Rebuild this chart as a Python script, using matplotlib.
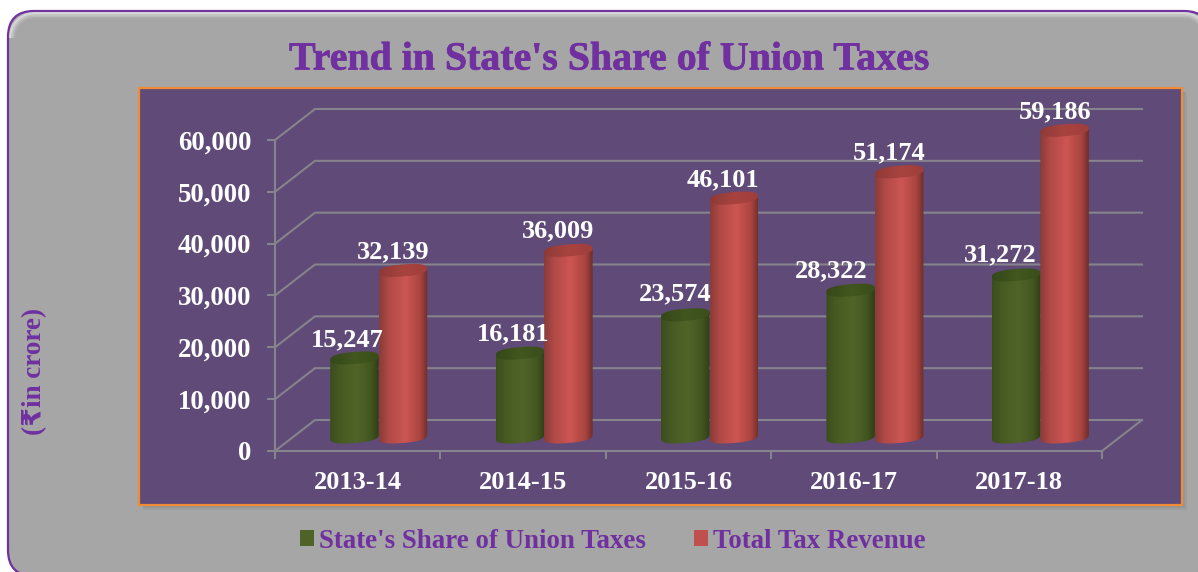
import numpy as np
import matplotlib
matplotlib.use('Agg')
import matplotlib.pyplot as plt
from matplotlib.patches import FancyBboxPatch, Rectangle, PathPatch, Patch
from matplotlib.path import Path
import matplotlib.patheffects as pe

plt.rcParams['font.family'] = ['Liberation Serif', 'DejaVu Sans']
plt.rcParams['font.weight'] = 'bold'

years = ['2013-14', '2014-15', '2015-16', '2016-17', '2017-18']
state_share = [15247, 16181, 23574, 28322, 31272]
total_revenue = [32139, 36009, 46101, 51174, 59186]
y_ticks = [0, 10000, 20000, 30000, 40000, 50000, 60000]

W, H = 1198, 572
PURPLE = '#7030A0'
GRID = '#87838C'

# pseudo 3d sizes, pixels
px_x = (1102 - 275) / 5.0
px_y = 311 / 60000.0
depth_x = 40 / px_x
depth_y = 31 / px_y
shift_x = 21 / px_x
shift_y = 14 / px_y
bar_w = 48.5 / px_x
ell_h = 6 / px_y
tilt = 2 / px_y

RED_STOPS = ['#8A3B38', '#B04A46', '#CD5552', '#A8443F', '#6E2C2A']
GREEN_STOPS = ['#3A4E1C', '#475A22', '#506429', '#42551F', '#2E3F16']
RED_TOP = ['#8E3A38', '#A8433F', '#A03E3C']
GREEN_TOP = ['#34481A', '#42561F', '#3A4E1C']


def ring(t):
    # slightly squared ellipse, the tops in the reference look flat
    c = np.sign(np.cos(t)) * np.abs(np.cos(t)) ** 0.8
    s = np.sign(np.sin(t)) * np.abs(np.sin(t)) ** 0.8
    return c * bar_w / 2, s * ell_h + c * tilt


def cylinder(ax, cx, value, stops, top):
    cm = matplotlib.colors.LinearSegmentedColormap.from_list('c', list(zip([0, 0.2, 0.55, 0.85, 1], stops)))
    cm_top = matplotlib.colors.LinearSegmentedColormap.from_list('t', top)
    y0 = shift_y
    y1 = shift_y + value
    t = np.linspace(np.pi, 2 * np.pi, 50)
    bx, by = ring(t)
    xs = np.r_[cx + bx, cx + bar_w / 2, cx - bar_w / 2]
    ys = np.r_[y0 + by, y1 + tilt, y1 - tilt]
    body = PathPatch(Path(np.c_[xs, ys]), fc='none', ec='none', zorder=3, clip_on=False)
    ax.add_patch(body)
    grad = np.linspace(0, 1, 128).reshape(1, -1)
    im = ax.imshow(grad, extent=[cx - bar_w / 2, cx + bar_w / 2, y0 - 2 * ell_h, y1 + 2 * ell_h],
                   aspect='auto', cmap=cm, zorder=3)
    im.set_clip_box(fig.bbox)  # the tallest bar goes over the top of the axes
    im.set_clip_path(body)
    t = np.linspace(0, 2 * np.pi, 100)
    ex, ey = ring(t)
    cap = PathPatch(Path(np.c_[cx + ex, y1 + ey]), fc='none', ec='none', zorder=3.1, clip_on=False)
    ax.add_patch(cap)
    im = ax.imshow(grad, extent=[cx - bar_w / 2, cx + bar_w / 2, y1 - 2 * ell_h, y1 + 2 * ell_h],
                   aspect='auto', cmap=cm_top, zorder=3.1)
    im.set_clip_box(fig.bbox)
    im.set_clip_path(cap)


fig = plt.figure(figsize=(W / 100, H / 100), dpi=100, facecolor='white')

# slide background, pixel coordinates
bg = fig.add_axes([0, 0, 1, 1])
bg.set_xlim(0, W)
bg.set_ylim(H, 0)
bg.axis('off')
bg.add_patch(FancyBboxPatch((34, 37), 1150, 513, boxstyle='round,pad=26,rounding_size=26',
                            fc='#A6A6A6', ec=PURPLE, lw=1.6))
# soft light band under the top border
arc = np.linspace(np.pi, 1.5 * np.pi, 30)
for k, a in zip([2, 3.5, 5, 6.5], [0.5, 0.32, 0.18, 0.08]):
    r = 26 - k
    bx = np.r_[34 + r * np.cos(arc), 1184 + r * np.cos(arc[::-1] + 0) * -1]
    by = np.r_[37 + r * np.sin(arc), 37 + r * np.sin(arc[::-1])]
    bg.plot(bx, by, color='white', lw=1.5, alpha=a)
# panel shadow, right and below only
for k, a in zip([5, 3, 1], [0.1, 0.13, 0.16]):
    bg.add_patch(Rectangle((143, 92), 1039 + k, 413 + k, fc='#5A5A5A', ec='none', alpha=a))
bg.add_patch(Rectangle((139, 88), 1043, 417, fc='#5F4A78', ec='#F08C35', lw=1.6))
bg.text(609.5, 60, "Trend in State's Share of Union Taxes", color=PURPLE, fontsize=28.7,
        ha='center', va='center', fontweight='bold',
        path_effects=[pe.withStroke(linewidth=0.5, foreground=PURPLE)])
bg.set_xlim(0, W)
bg.set_ylim(H, 0)

ax = fig.add_axes([275 / W, 1 - 451 / H, (1102 - 275) / W, 311 / H])
ax.patch.set_alpha(0)

for v in y_ticks:
    ax.plot([0, depth_x, 5 + depth_x], [v, v + depth_y, v + depth_y], color=GRID, lw=1.5,
            clip_on=False, zorder=1, solid_joinstyle='miter')
ax.plot([5, 5 + depth_x], [0, depth_y], color=GRID, lw=1.5, clip_on=False, zorder=1)

for s in ['top', 'right']:
    ax.spines[s].set_visible(False)
for s in ['left', 'bottom']:
    ax.spines[s].set_color(GRID)
    ax.spines[s].set_linewidth(1.5)

ax.set_yticks(y_ticks)
ax.set_yticklabels([f'{v:,}' for v in y_ticks])
ax.tick_params(axis='y', colors=GRID, length=6, width=1.5, pad=11, labelcolor='white', labelsize=19.3)
ax.set_xticks(range(6))
ax.set_xticklabels([])
ax.tick_params(axis='x', which='major', colors=GRID, length=6, width=1.5)
ax.set_xticks(np.arange(len(years)) + 0.5, minor=True)
ax.set_xticklabels(years, minor=True)
ax.tick_params(axis='x', which='minor', length=0, pad=14.7, labelcolor='white', labelsize=19)

# value label offsets from the bar top, pixels
state_off = [(-7, 18), (-7, 19), (-10, 21), (-19, 19), (-16, 20)]
rev_off = [(-10, 19), (-10, 20), (-11, 18), (-10, 19), (-9, 18)]

for i in range(len(years)):
    cx = i + 0.5 + shift_x
    cylinder(ax, cx - bar_w / 2, state_share[i], GREEN_STOPS, GREEN_TOP)
    cylinder(ax, cx + bar_w / 2, total_revenue[i], RED_STOPS, RED_TOP)
    ax.annotate(f'{state_share[i]:,}', (cx - bar_w / 2, shift_y + state_share[i]),
                xytext=(state_off[i][0] * 0.72, state_off[i][1] * 0.72), textcoords='offset points',
                color='white', fontsize=19, ha='center', va='center', zorder=5, annotation_clip=False)
    ax.annotate(f'{total_revenue[i]:,}', (cx + bar_w / 2, shift_y + total_revenue[i]),
                xytext=(rev_off[i][0] * 0.72, rev_off[i][1] * 0.72), textcoords='offset points',
                color='white', fontsize=19, ha='center', va='center', zorder=5, annotation_clip=False)
ax.set_xlim(0, 5)
ax.set_ylim(0, 60000)

ax.set_ylabel('(₹in crore)', color=PURPLE, fontsize=19.5, fontweight='bold')
ax.yaxis.set_label_coords((47 - 275) / (1102 - 275), (451 - 371) / 311)

handles = [Patch(fc='#4F6228', ec='none'), Patch(fc='#C0504D', ec='none')]
fig.legend(handles, ["State's Share of Union Taxes", 'Total Tax Revenue'], ncol=2, frameon=False,
           loc='center', bbox_to_anchor=(613 / W, 1 - 541 / H), fontsize=19.4, labelcolor=PURPLE,
           handlelength=0.52, handleheight=0.52, handletextpad=0.19, columnspacing=1.78)

fig.savefig('out.png', dpi=100)
